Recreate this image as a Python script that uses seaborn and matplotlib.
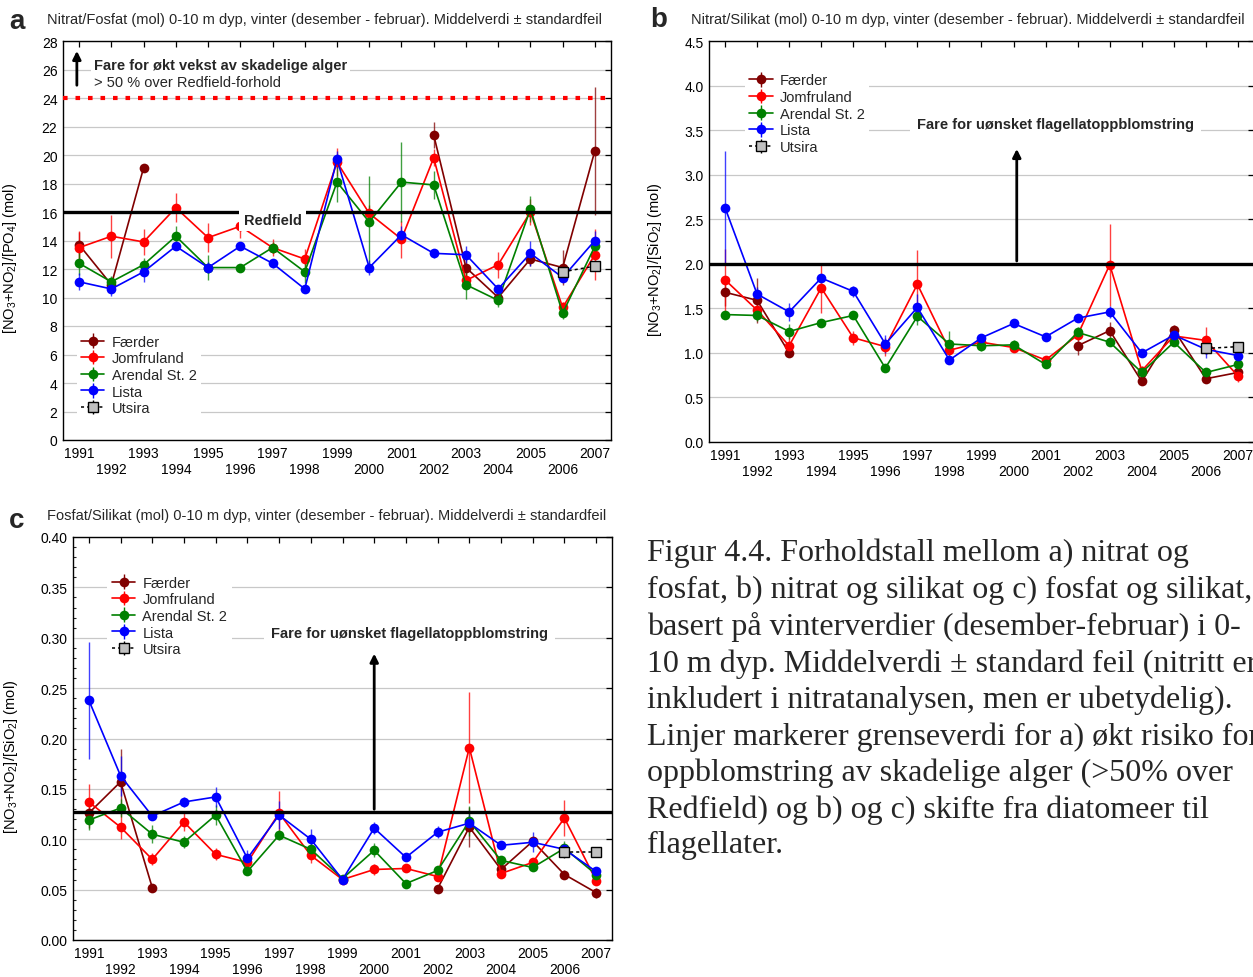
import numpy as np
import pandas as pd
import matplotlib
matplotlib.use("Agg")
import matplotlib.pyplot as plt
import seaborn as sns

# ---------------- data ----------------
years = list(range(1991, 2008))
stations = ["Færder", "Jomfruland", "Arendal St. 2", "Lista", "Utsira"]
N = np.nan

# panel a: Nitrat/Fosfat
a_faerder = [13.7, 10.9, 19.1, N, N, N, N, N, N, N, N, 21.4, 12.1, 10.0, 12.7, 12.1, 20.3]
a_jomfru = [13.5, 14.3, 13.9, 16.3, 14.2, 15.0, 13.5, 12.7, 19.5, 15.9, 14.1, 19.8, 11.2, 12.3, 16.0, 9.3, 13.0]
a_arendal = [12.4, 11.1, 12.3, 14.3, 12.1, 12.1, 13.5, 11.8, 18.1, 15.3, 18.1, 17.9, 10.9, 9.8, 16.2, 8.9, 13.6]
a_lista = [11.1, 10.6, 11.8, 13.6, 12.1, 13.6, 12.4, 10.6, 19.7, 12.1, 14.4, 13.1, 13.0, 10.6, 13.1, 11.4, 14.0]
a_utsira = [N] * 15 + [11.8, 12.2]
a_faerder_se = [0.9, 0.4, 0.2, N, N, N, N, N, N, N, N, 0.9, 0.6, 0.3, 0.5, 1.2, 4.5]
a_jomfru_se = [1.2, 1.5, 0.9, 1.0, 1.0, 0.8, 0.6, 0.7, 1.0, 0.6, 1.3, 0.6, 0.6, 0.9, 0.9, 0.4, 1.8]
a_arendal_se = [0.8, 0.4, 0.5, 0.7, 0.9, 0.2, 0.4, 0.8, 1.4, 3.2, 2.8, 1.0, 1.0, 0.5, 0.9, 0.4, 0.6]
a_lista_se = [0.6, 0.5, 0.7, 0.3, 0.4, 0.2, 0.3, 0.3, 0.6, 0.5, 0.6, 0.3, 0.6, 0.3, 0.9, 0.3, 0.7]
a_utsira_se = [N] * 15 + [0.3, 0.3]

# panel b: Nitrat/Silikat
b_faerder = [1.68, 1.59, 1.00, N, N, N, N, N, N, N, N, 1.08, 1.25, 0.68, 1.26, 0.71, 0.78]
b_jomfru = [1.82, 1.48, 1.08, 1.73, 1.17, 1.07, 1.77, 1.03, 1.12, 1.06, 0.92, 1.20, 1.99, 0.80, 1.19, 1.14, 0.74]
b_arendal = [1.43, 1.42, 1.24, 1.34, 1.42, 0.83, 1.41, 1.10, 1.08, 1.09, 0.87, 1.23, 1.12, 0.78, 1.12, 0.78, 0.87]
b_lista = [2.63, 1.66, 1.46, 1.84, 1.69, 1.10, 1.51, 0.92, 1.17, 1.33, 1.18, 1.39, 1.46, 1.00, 1.20, 1.04, 0.97]
b_utsira = [N] * 15 + [1.05, 1.07]
b_faerder_se = [0.15, 0.25, 0.03, N, N, N, N, N, N, N, N, 0.10, 0.10, 0.04, 0.05, 0.05, 0.05]
b_jomfru_se = [0.35, 0.08, 0.10, 0.28, 0.08, 0.10, 0.38, 0.05, 0.05, 0.05, 0.03, 0.05, 0.46, 0.05, 0.05, 0.15, 0.07]
b_arendal_se = [0.03, 0.06, 0.08, 0.03, 0.03, 0.05, 0.10, 0.15, 0.06, 0.05, 0.03, 0.06, 0.04, 0.03, 0.03, 0.03, 0.04]
b_lista_se = [0.64, 0.08, 0.10, 0.04, 0.06, 0.10, 0.15, 0.04, 0.03, 0.03, 0.03, 0.03, 0.07, 0.03, 0.04, 0.10, 0.07]
b_utsira_se = [N] * 15 + [0.05, 0.03]

# panel c: Fosfat/Silikat
c_faerder = [0.126, 0.157, 0.052, N, N, N, N, N, N, N, N, 0.051, 0.112, 0.070, 0.098, 0.065, 0.047]
c_jomfru = [0.137, 0.112, 0.080, 0.117, 0.085, 0.077, 0.126, 0.084, 0.060, 0.070, 0.071, 0.063, 0.191, 0.066, 0.077, 0.121, 0.059]
c_arendal = [0.119, 0.131, 0.105, 0.097, 0.124, 0.068, 0.104, 0.090, 0.061, 0.089, 0.056, 0.069, 0.118, 0.079, 0.072, 0.091, 0.065]
c_lista = [0.238, 0.163, 0.123, 0.137, 0.142, 0.081, 0.124, 0.100, 0.060, 0.111, 0.082, 0.107, 0.116, 0.094, 0.097, 0.090, 0.068]
c_utsira = [N] * 15 + [0.087, 0.087]
c_faerder_se = [0.015, 0.033, 0.003, N, N, N, N, N, N, N, N, 0.004, 0.020, 0.003, 0.004, 0.004, 0.005]
c_jomfru_se = [0.018, 0.012, 0.006, 0.009, 0.006, 0.006, 0.022, 0.008, 0.003, 0.005, 0.004, 0.003, 0.055, 0.003, 0.004, 0.018, 0.003]
c_arendal_se = [0.010, 0.009, 0.009, 0.006, 0.010, 0.003, 0.005, 0.006, 0.003, 0.007, 0.004, 0.004, 0.015, 0.004, 0.004, 0.007, 0.004]
c_lista_se = [0.058, 0.020, 0.004, 0.005, 0.010, 0.008, 0.014, 0.010, 0.003, 0.006, 0.004, 0.006, 0.008, 0.004, 0.010, 0.005, 0.004]
c_utsira_se = [N] * 15 + [0.006, 0.003]

titles = [
    "Nitrat/Fosfat (mol) 0-10 m dyp, vinter (desember - februar). Middelverdi \u00b1 standardfeil",
    "Nitrat/Silikat (mol) 0-10 m dyp, vinter (desember - februar). Middelverdi \u00b1 standardfeil",
    "Fosfat/Silikat (mol) 0-10 m dyp, vinter (desember - februar). Middelverdi \u00b1 standardfeil",
]
ylabels = [
    r"[NO$_3$+NO$_2$]/[PO$_4$] (mol)",
    r"[NO$_3$+NO$_2$]/[SiO$_2$] (mol)",
    r"[NO$_3$+NO$_2$]/[SiO$_2$] (mol)",
]
caption = ("Figur 4.4. Forholdstall mellom a) nitrat og\n"
           "fosfat, b) nitrat og silikat og c) fosfat og silikat,\n"
           "basert på vinterverdier (desember-februar) i 0-\n"
           "10 m dyp. Middelverdi \u00b1 standard feil (nitritt er\n"
           "inkludert i nitratanalysen, men er ubetydelig).\n"
           "Linjer markerer grenseverdi for a) økt risiko for\n"
           "oppblomstring av skadelige alger (>50% over\n"
           "Redfield) og b) og c) skifte fra diatomeer til\n"
           "flagellater.")

colors = {"Færder": "#800000", "Jomfruland": "#ff0000", "Arendal St. 2": "#008000",
          "Lista": "#0000ff", "Utsira": "#000000"}

# ---------------- style ----------------
sns.set_theme(style="white")
plt.rcParams["font.family"] = ["Liberation Sans", "DejaVu Sans"]
plt.rcParams["mathtext.fontset"] = "custom"
plt.rcParams["mathtext.rm"] = "Liberation Sans"
plt.rcParams["mathtext.it"] = "Liberation Sans:italic"
plt.rcParams["mathtext.default"] = "regular"

W, H = 1253, 978
fig = plt.figure(figsize=(W / 100, H / 100), dpi=100)


def px_axes(l, t, r, b):
    return fig.add_axes([l / W, 1 - b / H, (r - l) / W, (b - t) / H])


def build(vals, errs):
    rows = []
    for st, v, e in zip(stations, vals, errs):
        seg = 0
        prev_nan = False
        for yr, val, err in zip(years, v, e):
            if np.isnan(val):
                prev_nan = True
                continue
            if prev_nan:
                seg += 1
                prev_nan = False
            rows.append(dict(station=st, year=yr, value=val, err=err, seg=f"{st}_{seg}"))
    return pd.DataFrame(rows)


def draw_panel(ax, vals, errs, ylim, yticks, yfmt, ylabel, ylab_x, legend_anchor):
    df = build(vals, errs)
    main = df[df.station != "Utsira"]
    ut = df[df.station == "Utsira"]
    ax.set_xlim(1990.5, 2007.5)
    ax.set_ylim(*ylim)
    ax.set_yticks(yticks)
    ax.set_yticklabels([yfmt.format(t) for t in yticks])
    ax.set_xticks(years)
    ax.set_xticklabels([str(y) if y % 2 else "\n" + str(y) for y in years])
    ax.yaxis.grid(True, color="#c8c8c8", lw=0.9)
    ax.xaxis.grid(False)
    ax.set_axisbelow(True)
    for s in ax.spines.values():
        s.set_color("black")
        s.set_linewidth(1.0)
    ax.tick_params(direction="in", top=True, right=True, length=4, width=0.9,
                   labelsize=10, colors="black", pad=4)
    # error bars
    for st in stations:
        sub = df[df.station == st]
        col = "black" if st == "Utsira" else colors[st]
        ax.errorbar(sub.year, sub.value, yerr=sub.err, fmt="none", ecolor=col,
                    elinewidth=1.0, alpha=0.75, zorder=3)
    sns.lineplot(data=main, x="year", y="value", hue="station", units="seg",
                 estimator=None, hue_order=stations[:4], palette=colors,
                 marker="o", markersize=7, markeredgewidth=0, linewidth=1.2,
                 legend=False, ax=ax, zorder=4)
    sns.lineplot(data=ut, x="year", y="value", color="black", linestyle=(0, (2, 2)),
                 marker="s", markersize=6.5, markerfacecolor="#c0c0c0",
                 markeredgecolor="black", markeredgewidth=1.0, linewidth=1.1,
                 legend=False, ax=ax, zorder=5)
    ax.set_xlabel("")
    ax.set_ylabel(ylabel, fontsize=10.5, color="black")
    ax.yaxis.set_label_coords(ylab_x, 0.457)
    # legend handles
    handles = []
    for st in stations:
        if st == "Utsira":
            h = ax.errorbar([np.nan], [np.nan], yerr=[np.nan], fmt="s", ls=(0, (2, 2)),
                            color="black", mfc="#c0c0c0", mec="black", ms=6.5,
                            ecolor="black", elinewidth=1.0, lw=1.1)
        else:
            h = ax.errorbar([np.nan], [np.nan], yerr=[np.nan], fmt="-o", color=colors[st],
                            ms=7, mew=0, elinewidth=1.0, lw=1.2)
        handles.append(h)
    leg = ax.legend(handles, stations, loc="upper left", bbox_to_anchor=legend_anchor,
                    frameon=True, fancybox=False, edgecolor="none", facecolor="white",
                    framealpha=1, fontsize=10.5, handlelength=1.6, handletextpad=0.5,
                    labelspacing=0.18, borderpad=0.3, borderaxespad=0)
    leg.set_zorder(2.6)
    return ax


# ---------------- panel a ----------------
axa = px_axes(63, 42, 611, 441)
draw_panel(axa, [a_faerder, a_jomfru, a_arendal, a_lista, a_utsira],
           [a_faerder_se, a_jomfru_se, a_arendal_se, a_lista_se, a_utsira_se],
           (0, 28), list(range(0, 29, 2)), "{:g}", ylabels[0], -0.08, (0.025, 0.275))
axa.axhline(16, color="black", lw=2.4, zorder=6)
axa.axhline(24, color="#ff0000", lw=3, ls=(0, (1.1, 1.9)), zorder=6)
axa.text(1996.1, 15.45, "Redfield", fontsize=10.5, fontweight="bold", va="center", ha="left",
         zorder=10, bbox=dict(facecolor="white", edgecolor="none",
                              boxstyle="square,pad=0.3"))
axa.annotate("", xy=(1990.93, 27.5), xytext=(1990.93, 24.7),
             arrowprops=dict(arrowstyle="-|>", lw=2, color="black", mutation_scale=12))
axa.text(1991.45, 26.3, "Fare for økt vekst av skadelige alger", fontsize=10.5,
         fontweight="bold", va="center", ha="left", zorder=10,
         bbox=dict(facecolor="white", edgecolor="none", pad=2))
axa.text(1991.45, 25.15, "> 50 % over Redfield-forhold", fontsize=10.5,
         va="center", ha="left", zorder=10)

# ---------------- panel b ----------------
axb = px_axes(709, 42, 1254, 443)
draw_panel(axb, [b_faerder, b_jomfru, b_arendal, b_lista, b_utsira],
           [b_faerder_se, b_jomfru_se, b_arendal_se, b_lista_se, b_utsira_se],
           (0, 4.5), list(np.arange(0, 4.51, 0.5)), "{:.1f}", ylabels[1], -0.083, (0.066, 0.93))
axb.axhline(2.0, color="black", lw=2.4, zorder=6)
axb.annotate("", xy=(2000.1, 3.32), xytext=(2000.1, 2.0),
             arrowprops=dict(arrowstyle="-|>", lw=2, color="black", mutation_scale=12))
axb.text(2001.3, 3.57, "Fare for uønsket flagellatoppblomstring", fontsize=10.5,
         fontweight="bold", va="center", ha="center", zorder=10,
         bbox=dict(facecolor="white", edgecolor="none", pad=5))

# ---------------- panel c ----------------
axc = px_axes(73, 538, 612, 941)
draw_panel(axc, [c_faerder, c_jomfru, c_arendal, c_lista, c_utsira],
           [c_faerder_se, c_jomfru_se, c_arendal_se, c_lista_se, c_utsira_se],
           (0, 0.40), list(np.arange(0, 0.401, 0.05)), "{:.2f}", ylabels[2], -0.099, (0.064, 0.915))
axc.yaxis.set_minor_locator(matplotlib.ticker.MultipleLocator(0.01))
axc.tick_params(which="minor", direction="in", left=True, right=False, length=2.5, width=0.8)
axc.axhline(0.127, color="black", lw=2.4, zorder=6)
axc.annotate("", xy=(2000.0, 0.287), xytext=(2000.0, 0.127),
             arrowprops=dict(arrowstyle="-|>", lw=2, color="black", mutation_scale=12))
axc.text(2001.1, 0.305, "Fare for uønsket flagellatoppblomstring", fontsize=10.5,
         fontweight="bold", va="center", ha="center", zorder=10,
         bbox=dict(facecolor="white", edgecolor="none", pad=5))

# ---------------- titles / letters / caption ----------------
fig.text(47 / W, 1 - 20 / H, titles[0], fontsize=10.5, va="center", ha="left")
fig.text(691 / W, 1 - 20 / H, titles[1], fontsize=10.5, va="center", ha="left")
fig.text(47 / W, 1 - 516 / H, titles[2], fontsize=10.5, va="center", ha="left")
fig.text(9 / W, 1 - 22 / H, "a", fontsize=20, fontweight="bold", va="center", ha="left")
fig.text(650 / W, 1 - 20 / H, "b", fontsize=20, fontweight="bold", va="center", ha="left")
fig.text(9 / W, 1 - 521 / H, "c", fontsize=20, fontweight="bold", va="center", ha="left")
fig.text(647 / W, 1 - 539 / H, caption, fontsize=23, family=["Liberation Serif", "DejaVu Serif"],
         va="top", ha="left", linespacing=1.31)

fig.savefig("out.png", dpi=100)
